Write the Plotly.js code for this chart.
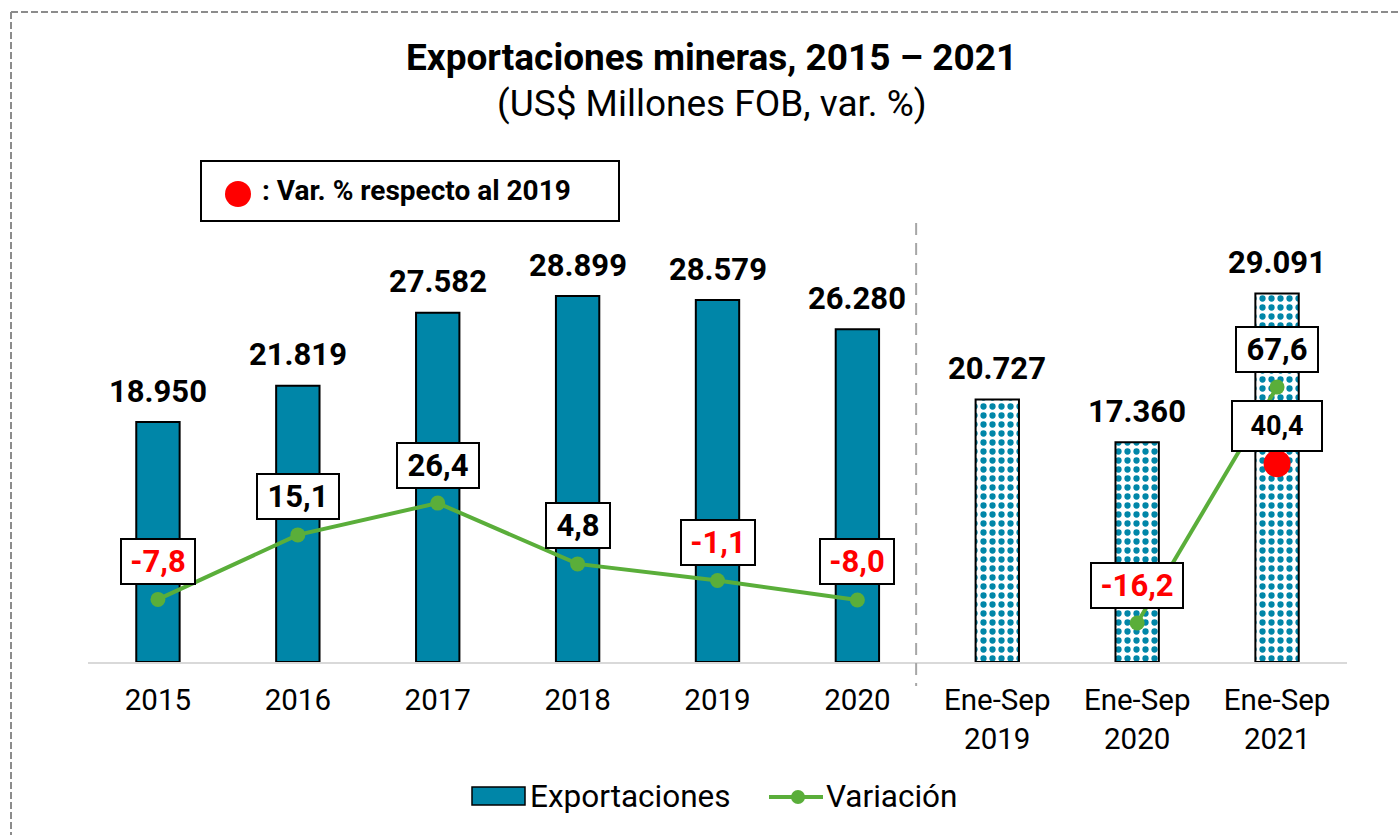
<!DOCTYPE html>
<html>
<head>
<meta charset="utf-8">
<script src="https://cdn.plot.ly/plotly-3.0.1.min.js"></script>
<style>
  html, body { margin: 0; padding: 0; background: #ffffff; }
  #chart { width: 1398px; height: 835px; }
</style>
</head>
<body>
<div id="chart"></div>
<script>
// ---- Data ----
const categories = ['2015', '2016', '2017', '2018', '2019', '2020', 'Ene-Sep<br>2019', 'Ene-Sep<br>2020', 'Ene-Sep<br>2021'];
const exportaciones = [18950, 21819, 27582, 28899, 28579, 26280, 20727, 17360, 29091];
const variacion = [-7.8, 15.1, 26.4, 4.8, -1.1, -8.0, null, -16.2, 67.6];
const varRespecto2019 = [null, null, null, null, null, null, null, null, 40.4];
const annualIdx = [0, 1, 2, 3, 4, 5];
const partialIdx = [6, 7, 8];

// ---- Styling ----
const FONT = 'Roboto, "Open Sans", Arial, sans-serif';
const TEAL = '#0086A8';
const GREEN = '#5AAE3A';
const M = { l: 88, r: 51, t: 150, b: 173 };
const PW = 1398 - M.l - M.r, PH = 835 - M.t - M.b;
const px = x => (x - M.l) / PW;          // page px -> paper x
const py = y => (M.t + PH - y) / PH;     // page px -> paper y

const fmtThousands = v => {
  const s = String(Math.round(v));
  return s.replace(/\B(?=(\d{3})+(?!\d))/g, '.');
};
const fmtPct = v => v.toFixed(1).replace('.', ',');

const xIdx = categories.map((_, i) => i);

const traces = [
  {
    type: 'bar', name: 'Exportaciones',
    x: annualIdx, y: annualIdx.map(i => exportaciones[i]),
    width: 0.31,
    marker: { color: TEAL, line: { color: '#000000', width: 2 } },
    hoverinfo: 'y', showlegend: false
  },
  {
    type: 'bar', name: 'Exportaciones (Ene-Sep)',
    x: partialIdx, y: partialIdx.map(i => exportaciones[i]),
    width: 0.31,
    marker: {
      color: TEAL,
      line: { color: '#000000', width: 2 },
      pattern: { shape: '.', fgcolor: TEAL, bgcolor: '#ffffff', size: 9, solidity: 0.38, fillmode: 'replace' }
    },
    hoverinfo: 'y', showlegend: false
  },
  {
    type: 'scatter', mode: 'lines+markers', name: 'Variación',
    x: xIdx, y: variacion, yaxis: 'y2', connectgaps: false,
    line: { color: GREEN, width: 4 },
    marker: { color: GREEN, size: 15 },
    showlegend: false
  },
  {
    type: 'scatter', mode: 'markers', name: 'Var. % respecto al 2019',
    x: xIdx, y: varRespecto2019, yaxis: 'y2',
    marker: { color: '#FF0000', size: 27 },
    showlegend: false
  }
];

const annotations = [];
// Titles
annotations.push({
  xref: 'paper', yref: 'paper', x: px(711), y: py(57), xanchor: 'center', yanchor: 'middle',
  text: '<b>Exportaciones mineras, 2015 – 2021</b>', showarrow: false,
  font: { family: FONT, size: 37, color: '#000000' }
});
annotations.push({
  xref: 'paper', yref: 'paper', x: px(712), y: py(103), xanchor: 'center', yanchor: 'middle',
  text: '(US$ Millones FOB, var. %)', showarrow: false,
  font: { family: FONT, size: 37, color: '#000000' }
});
// Bar value labels
exportaciones.forEach((v, i) => {
  annotations.push({
    xref: 'x', yref: 'y', x: i, y: v, xanchor: 'center', yanchor: 'middle', yshift: 31,
    text: '<b>' + fmtThousands(v) + '</b>', showarrow: false,
    font: { family: FONT, size: 31, color: '#000000' }
  });
});
// Variation boxes
const boxFont = 31;
variacion.forEach((v, i) => {
  if (v === null) return;
  const s = fmtPct(v);
  const nd = s.replace(/[^0-9]/g, '').length;
  const tw = boxFont * (0.5615 * nd + 0.24 + (v < 0 ? 0.33 : 0));
  annotations.push({
    xref: 'x', yref: 'y2', x: i, y: v, xanchor: 'center', yanchor: 'middle', yshift: 38,
    text: '<b>' + s + '</b>', showarrow: false,
    font: { family: FONT, size: boxFont, color: v < 0 ? '#FF0000' : '#000000' },
    bgcolor: '#ffffff', bordercolor: '#000000', borderwidth: 2, borderpad: 0,
    width: Math.round(tw + 20), height: 43
  });
});
varRespecto2019.forEach((v, i) => {
  if (v === null) return;
  annotations.push({
    xref: 'x', yref: 'y2', x: i, y: v, xanchor: 'center', yanchor: 'middle', yshift: 38,
    text: '<b>' + fmtPct(v) + '</b>', showarrow: false,
    font: { family: FONT, size: 27, color: '#000000' },
    bgcolor: '#ffffff', bordercolor: '#000000', borderwidth: 2, borderpad: 0,
    width: 88, height: 48
  });
});
// Top legend text
annotations.push({
  xref: 'paper', yref: 'paper', x: px(260), y: py(190), xanchor: 'left', yanchor: 'middle',
  text: '<b>: Var. % respecto al 2019</b>', showarrow: false,
  font: { family: FONT, size: 28, color: '#000000' }
});
// Bottom legend text
annotations.push({
  xref: 'paper', yref: 'paper', x: px(528), y: py(796), xanchor: 'left', yanchor: 'middle',
  text: 'Exportaciones', showarrow: false,
  font: { family: FONT, size: 31.5, color: '#000000' }
});
annotations.push({
  xref: 'paper', yref: 'paper', x: px(824), y: py(796), xanchor: 'left', yanchor: 'middle',
  text: 'Variación', showarrow: false,
  font: { family: FONT, size: 31.5, color: '#000000' }
});

const shapes = [
  // outer dashed frame (top and left edges)
  { type: 'line', xref: 'paper', yref: 'paper', x0: px(11), x1: px(1398), y0: py(12), y1: py(12),
    line: { color: '#8C8C8C', width: 2, dash: '7px,3px' } },
  { type: 'line', xref: 'paper', yref: 'paper', x0: px(11), x1: px(11), y0: py(12), y1: py(835),
    line: { color: '#8C8C8C', width: 2, dash: '7px,3px' } },
  // separator
  { type: 'line', xref: 'x', yref: 'paper', x0: 5.42, x1: 5.42, y0: py(223), y1: py(686),
    line: { color: '#A6A6A6', width: 2, dash: '12px,8px' } },
  // top legend box
  { type: 'rect', xref: 'paper', yref: 'paper', x0: px(201), x1: px(619), y0: py(161), y1: py(221),
    line: { color: '#000000', width: 2 }, fillcolor: 'rgba(0,0,0,0)', layer: 'above' },
  { type: 'circle', xref: 'paper', yref: 'paper', x0: px(225), x1: px(251), y0: py(181), y1: py(207),
    line: { color: '#FF0000', width: 0 }, fillcolor: '#FF0000' },
  // bottom legend symbols
  { type: 'rect', xref: 'paper', yref: 'paper', x0: px(472), x1: px(525), y0: py(787), y1: py(805),
    line: { color: '#000000', width: 1.5 }, fillcolor: TEAL },
  { type: 'line', xref: 'paper', yref: 'paper', x0: px(769), x1: px(823), y0: py(797), y1: py(797),
    line: { color: GREEN, width: 4 } },
  { type: 'circle', xref: 'paper', yref: 'paper', x0: px(791), x1: px(805), y0: py(790), y1: py(804),
    line: { color: GREEN, width: 0 }, fillcolor: GREEN }
];

const layout = {
  width: 1398, height: 835,
  margin: M,
  paper_bgcolor: '#ffffff', plot_bgcolor: '#ffffff',
  font: { family: FONT, color: '#000000' },
  barmode: 'overlay',
  showlegend: false,
  xaxis: {
    range: [-0.5, 8.5], tickvals: xIdx, ticktext: categories,
    showgrid: false, zeroline: false, showline: true, linecolor: '#D9D9D9', linewidth: 2,
    ticks: '', ticklabelstandoff: 11,
    tickfont: { family: FONT, size: 29.5, color: '#000000' }, fixedrange: true
  },
  yaxis: { range: [0, 40430], visible: false, fixedrange: true },
  yaxis2: { range: [-30.04, 151.8], overlaying: 'y', visible: false, fixedrange: true },
  annotations: annotations,
  shapes: shapes
};

Plotly.newPlot('chart', traces, layout, { displayModeBar: false, staticPlot: true });
</script>
</body>
</html>
